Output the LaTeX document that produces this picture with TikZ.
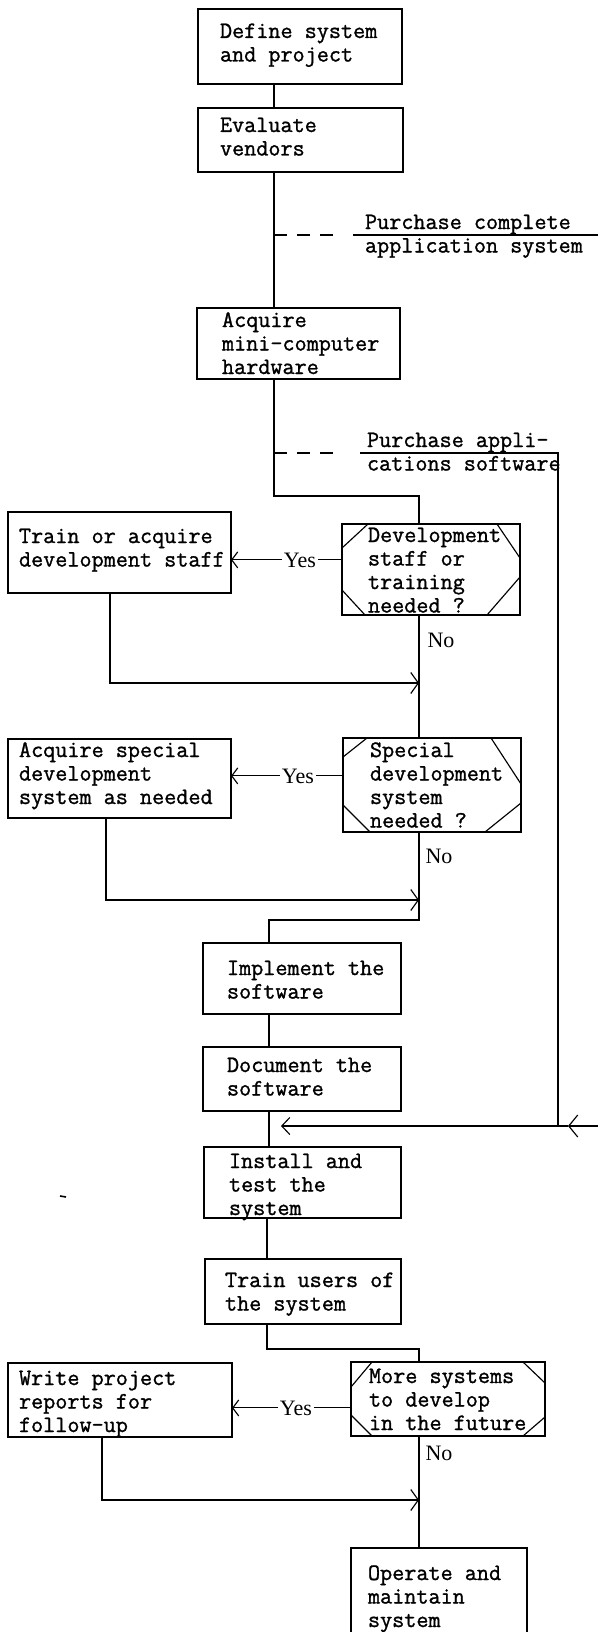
\documentclass[tikz,border=0pt]{standalone}
\usepackage{fontspec}
\setmonofont{Latin Modern Mono}[FakeBold=1.2]
\newfontfamily\lblfont{Liberation Serif}
\usetikzlibrary{arrows.meta,calc}
\newcommand\fs{\rule{0pt}{18pt}}
\begin{document}
\begin{tikzpicture}[x=1pt,y=-1pt,line width=1.15pt,
  box/.style={draw,anchor=north west,inner sep=0pt,outer sep=0pt},
  txt/.style={anchor=north west,inner sep=0pt,outer sep=0pt,align=left,
              font=\ttfamily\fontsize{23.5}{23.5}\selectfont},
  lbl/.style={inner sep=1.5pt,font=\lblfont\fontsize{22}{24}\selectfont},
  into/.style={-{Straight Barb[length=7.5pt,width=21pt]}},
  intoleft/.style={-{Straight Barb[length=8pt,width=17pt]}},
  midarr/.style={-{Straight Barb[length=9pt,width=22pt]}},
  yesarr/.style={-{Straight Barb[length=6pt,width=16pt]}},
  dashline/.style={dash pattern=on 13pt off 10pt}]

\fill[white] (0,0) rectangle (598,1632);
\useasboundingbox (0,0) rectangle (598,1632);

% trunk positions
\coordinate (xa) at (274,0);
\coordinate (xb) at (419,0);
\coordinate (xc) at (269,0);
\coordinate (xd) at (267,0);
\coordinate (xr) at (558,0);

% ---- boxes ----
\node[box,minimum width=204pt,minimum height=75pt] (b1) at (198,9) {};
\node[box,minimum width=205pt,minimum height=64pt] (b2) at (198,108) {};
\node[box,minimum width=203pt,minimum height=71pt] (b3) at (197,308) {};
\node[box,minimum width=223pt,minimum height=81pt] (tr) at (8,512) {};
\node[box,minimum width=178pt,minimum height=91pt] (d1) at (342,524) {};
\node[box,minimum width=223pt,minimum height=79pt] (as) at (8,739) {};
\node[box,minimum width=178pt,minimum height=94pt] (d2) at (343,738) {};
\node[box,minimum width=198pt,minimum height=71pt] (impl) at (203,943) {};
\node[box,minimum width=198pt,minimum height=64pt] (doc) at (203,1047) {};
\node[box,minimum width=197pt,minimum height=71pt] (inst) at (204,1147) {};
\node[box,minimum width=196pt,minimum height=65pt] (trn) at (205,1259) {};
\node[box,minimum width=224pt,minimum height=74pt] (wp) at (8,1363) {};
\node[box,minimum width=194pt,minimum height=74pt] (d3) at (351,1362) {};
\node[box,minimum width=176pt,minimum height=100pt] (op) at (351,1548) {};

% cut corners of the decision boxes
\draw ($(d1.north west)+(0,24)$) -- ($(d1.north west)+(26,0)$);
\draw ($(d1.north east)+(-23,0)$) -- ($(d1.north east)+(0,34)$);
\draw ($(d1.south west)+(0,-25)$) -- ($(d1.south west)+(23,0)$);
\draw ($(d1.south east)+(-33,0)$) -- ($(d1.south east)+(0,-38)$);

\draw ($(d2.north west)+(0,19)$) -- ($(d2.north west)+(24,0)$);
\draw ($(d2.north east)+(-30,0)$) -- ($(d2.north east)+(0,46)$);
\draw ($(d2.south west)+(0,-27)$) -- ($(d2.south west)+(27,0)$);
\draw ($(d2.south east)+(-36,0)$) -- ($(d2.south east)+(0,-29)$);

\draw ($(d3.north west)+(0,25)$) -- ($(d3.north west)+(21,0)$);
\draw ($(d3.north east)+(-22,0)$) -- ($(d3.north east)+(0,21)$);
\draw ($(d3.south west)+(0,-21)$) -- ($(d3.south west)+(21,0)$);
\draw ($(d3.south east)+(-22,0)$) -- ($(d3.south east)+(0,-19)$);

% ---- texts ----
\node[txt] (t1) at (220,20) {\fs Define system\\and project};
\node[txt] (t2) at (220,114) {\fs Evaluate\\vendors};
\node[txt] (pc) at (365,211) {\fs Purchase complete\\application system};
\node[txt] (t3) at (222,309) {\fs Acquire\\mini-computer\\hardware};
\node[txt] (pa) at (367,429) {\fs Purchase appli-\\cations software};
\node[txt] (ttr) at (19,525) {\fs Train or acquire\\development staff};
\node[txt] (td1) at (368,524) {\fs Development\\staff or\\training\\needed ?};
\node[txt] (tas) at (19,739) {\fs Acquire special\\development\\system as needed};
\node[txt] (td2) at (370,739) {\fs Special\\development\\system\\needed ?};
\node[txt] (timp) at (227,957) {\fs Implement the\\software};
\node[txt] (tdoc) at (227,1054) {\fs Document the\\software};
\node[txt] (tins) at (229,1150) {\fs Install and\\test the\\system};
\node[txt] (ttrn) at (225,1269) {\fs Train users of\\the system};
\node[txt] (twp) at (19,1367) {\fs Write project\\reports for\\follow-up};
\node[txt] (td3) at (369,1365) {\fs More systems\\to develop\\in the future};
\node[txt] (top) at (368,1562) {\fs Operate and\\maintain\\system};

% Yes / No labels
\node[lbl,anchor=base] (y1) at (300,567) {Yes};
\node[lbl,anchor=base] (y2) at (298,783) {Yes};
\node[lbl,anchor=base] (y3) at (296,1415) {Yes};
\node[lbl,anchor=base west,inner sep=0pt] (n1) at (427,647) {No};
\node[lbl,anchor=base west,inner sep=0pt] (n2) at (425,863) {No};
\node[lbl,anchor=base west,inner sep=0pt] (n3) at (425,1460) {No};

% ---- connectors ----
\draw (b1.south -| xa) -- (b2.north -| xa);
\draw (b2.south -| xa) -- (b3.north -| xa);

% purchase of a complete application system
\coordinate (pcs) at (274,235);
\coordinate (pce) at (338,235);
\coordinate (pcl) at (353,235);
\coordinate (pcr) at (598,235);
\draw[dashline] (pcs) -- (pce);
\draw (pcl) -- (pcr);

% purchase of applications software
\coordinate (pas) at (274,453);
\coordinate (pae) at (340,453);
\coordinate (pal) at (360,453);
\draw[dashline] (pas) -- (pae);
\draw (pal) -- (pal -| xr) -- (xr |- 0,1126);

\coordinate (k1) at (274,496);
\draw (b3.south -| xa) -- (k1) -- (k1 -| xb) -- (d1.north -| xb);

% first decision
\draw (d1.west |- y1) -- (y1.east);
\draw[yesarr] (y1.west) -- (tr.east |- y1);
\coordinate (r1) at (110,683);
\draw[into] (tr.south -| r1) -- (r1) -- (r1 -| xb);
\draw (d1.south -| xb) -- (d2.north -| xb);

% second decision
\draw (d2.west |- y2) -- (y2.east);
\draw[yesarr] (y2.west) -- (as.east |- y2);
\coordinate (r2) at (106,900);
\draw[into] (as.south -| r2) -- (r2) -- (r2 -| xb);
\coordinate (k2) at (269,920);
\draw (d2.south -| xb) -- (k2 -| xb) -- (k2) -- (impl.north -| xc);

\draw (impl.south -| xc) -- (doc.north -| xc);
\draw (doc.south -| xc) -- (inst.north -| xc);

% software bought in joins before installation
\coordinate (e1) at (598,1126);
\coordinate (e2) at (568,1126);
\coordinate (e3) at (281,1126);
\draw[midarr] (e1) -- (e2);
\draw[intoleft] (e2) -- (e3);

\draw (inst.south -| xd) -- (trn.north -| xd);
\coordinate (k3) at (267,1349);
\draw (trn.south -| xd) -- (k3) -- (k3 -| xb) -- (d3.north -| xb);

% third decision
\draw (d3.west |- y3) -- (y3.east);
\draw[yesarr] (y3.west) -- (wp.east |- y3);
\coordinate (r3) at (102,1500);
\draw[into] (wp.south -| r3) -- (r3) -- (r3 -| xb);
\draw (d3.south -| xb) -- (op.north -| xb);

% small stray mark
\draw[line width=1.6pt] (60,1196) -- (66,1197);
\end{tikzpicture}
\end{document}
